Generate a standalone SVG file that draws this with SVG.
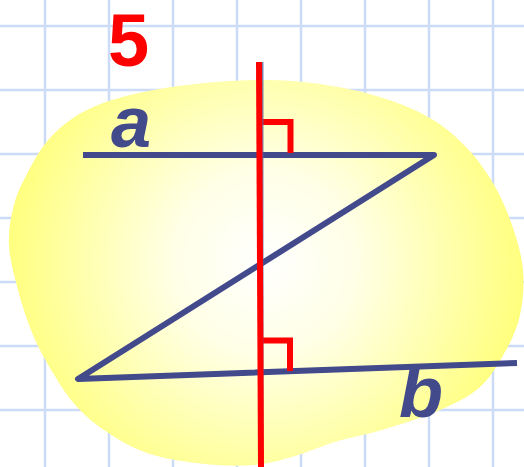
<svg xmlns="http://www.w3.org/2000/svg" width="524" height="467" viewBox="0 0 524 467">
<style>
.grid line{stroke:#CCDBF8;stroke-width:2.5}
.blue{fill:none;stroke:#424A8C;stroke-width:6;stroke-linejoin:round;stroke-linecap:butt}
.red{fill:none;stroke:#FF0000;stroke-width:6;stroke-linejoin:miter;stroke-linecap:butt}
.lbl{font-family:"Liberation Sans",Arial,sans-serif;font-weight:bold}
</style>
<defs>
<radialGradient id="glow" gradientUnits="userSpaceOnUse" cx="265" cy="262" r="265">
<stop offset="0" stop-color="#FFFFFF"/>
<stop offset="0.35" stop-color="#FFFFE6"/>
<stop offset="1" stop-color="#FFFF7A"/>
</radialGradient>
</defs>
<rect width="524" height="467" fill="#FFFFFF"/>
<g class="grid">
<line x1="45" y1="0" x2="45" y2="467"/>
<line x1="109" y1="0" x2="109" y2="467"/>
<line x1="173" y1="0" x2="173" y2="467"/>
<line x1="237" y1="0" x2="237" y2="467"/>
<line x1="301" y1="0" x2="301" y2="467"/>
<line x1="365" y1="0" x2="365" y2="467"/>
<line x1="429" y1="0" x2="429" y2="467"/>
<line x1="493" y1="0" x2="493" y2="467"/>
<line x1="0" y1="26" x2="524" y2="26"/>
<line x1="0" y1="90" x2="524" y2="90"/>
<line x1="0" y1="154" x2="524" y2="154"/>
<line x1="0" y1="218" x2="524" y2="218"/>
<line x1="0" y1="282" x2="524" y2="282"/>
<line x1="0" y1="346" x2="524" y2="346"/>
<line x1="0" y1="410" x2="524" y2="410"/>
</g>
<path id="blob" fill="url(#glow)" d="M262,80 C282.8,80 300.3,81.2 320,84 C339.7,86.8 361.7,91.3 380,97 C398.3,102.7 415.7,109.7 430,118 C444.3,126.3 455.5,136.2 466,147 C476.5,157.8 485.3,170 493,183 C500.7,196 507,210.5 512,225 C517,239.5 521.7,255 523,270 C524.3,285 523,301.3 520,315 C517,328.7 511.7,340 505,352 C498.3,364 490.8,377.3 480,387 C469.2,396.7 455.8,403 440,410 C424.2,417 402.5,423.7 385,429 C367.5,434.3 350,437.5 335,442 C320,446.5 308.3,452.2 295,456 C281.7,459.8 270,463.7 255,465 C240,466.3 222.5,465.8 205,464 C187.5,462.2 165.8,459 150,454 C134.2,449 122.2,441.8 110,434 C97.8,426.2 86.5,417.2 77,407 C67.5,396.8 60.3,385 53,373 C45.7,361 38.8,348.8 33,335 C27.2,321.2 22,305 18,290 C14,275 9.7,259.2 9,245 C8.3,230.8 10.8,217.2 14,205 C17.2,192.8 22,183.2 28,172 C34,160.8 40.8,148 50,138 C59.2,128 69.7,119.2 83,112 C96.3,104.8 111.3,99.7 130,95 C148.7,90.3 173,86.5 195,84 C217,81.5 241.2,80 262,80 Z"/>
<g id="lines">
<polyline id="zline" class="blue" points="83,155 434,155 78,379 517,363"/>
</g>
<g id="markers">
<path id="right-angle-a" class="red" d="M262,122 H290.5 V153"/>
<path id="right-angle-b" class="red" d="M262,340.5 H290 V371"/>
</g>
<g id="perpendicular">
<line x1="262.8" y1="62" x2="262.8" y2="467" stroke="#5A64A0" stroke-width="1.2"/>
<line x1="259" y1="62" x2="261" y2="467" stroke="#FF0000" stroke-width="6"/>
</g>
<g id="labels">
<text class="lbl" x="108" y="66" font-size="74" fill="#FF0000">5</text>
<text class="lbl" x="111" y="147" font-size="72" font-style="italic" fill="#424A8C">a</text>
<text class="lbl" x="399" y="417" font-size="72" font-style="italic" fill="#424A8C">b</text>
</g>
</svg>
